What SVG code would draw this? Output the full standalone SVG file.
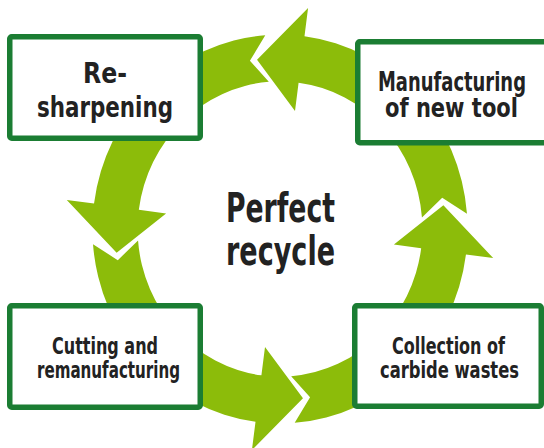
<svg xmlns="http://www.w3.org/2000/svg" xmlns:xlink="http://www.w3.org/1999/xlink" width="544" height="448" viewBox="0 0 544 448">
<style>
.box{fill:#ffffff;stroke:#1b7d33;stroke-width:5.5}
.seg{fill:#8cbc0a}
.t{font-family:"DejaVu Sans","Liberation Sans",sans-serif;font-weight:bold;fill:#222222;text-anchor:middle}
</style>
<defs>
<path id="seg" class="seg" d="M190.41,-14.99 A191,191 0 0 0 24.93,-189.37 L28.59,-217.13 L-23.38,-166.37 L15.27,-116.00 L18.93,-143.76 A145,145 0 0 1 144.55,-11.38 L165.19,-30.62 Z"/>
</defs>
<rect width="544" height="448" fill="#ffffff"/>
<g id="connectors" transform="translate(280,229) scale(0.982,1.018)">
<use xlink:href="#seg"/>
<use xlink:href="#seg" transform="rotate(-90)"/>
<use xlink:href="#seg" transform="rotate(-180)"/>
<use xlink:href="#seg" transform="rotate(-270)"/>
</g>
<g id="center">
<text class="t" x="280.5" y="222" font-size="26.7" textLength="109" lengthAdjust="spacingAndGlyphs" transform="matrix(1,0,0,1.5,0,-111)">Perfect</text>
<text class="t" x="280.5" y="265" font-size="27" textLength="109" lengthAdjust="spacingAndGlyphs" transform="matrix(1,0,0,1.48,0,-127.2)">recycle</text>
</g>
<g id="resharpening">
<rect class="box" x="9.75" y="36.75" width="190.5" height="101.5" rx="2"/>
<text class="t" x="105" y="83" font-size="23.6" textLength="44" lengthAdjust="spacingAndGlyphs" transform="matrix(1,0,0,1.23,0,-19.09)">Re-</text>
<text class="t" x="105" y="117" font-size="21.4" textLength="136" lengthAdjust="spacingAndGlyphs" transform="matrix(1,0,0,1.355,0,-41.54)">sharpening</text>
</g>
<g id="manufacturing">
<rect class="box" x="357.75" y="41.75" width="200" height="101" rx="2"/>
<text class="t" x="452" y="91" font-size="17.9" textLength="148" lengthAdjust="spacingAndGlyphs" transform="matrix(1,0,0,1.45,0,-40.95)">Manufacturing</text>
<text class="t" x="451.5" y="117" font-size="21" textLength="133" lengthAdjust="spacingAndGlyphs" transform="matrix(1,0,0,1.24,0,-28.08)">of new tool</text>
</g>
<g id="cutting">
<rect class="box" x="9.75" y="305.75" width="190.5" height="101.5" rx="2"/>
<text class="t" x="105" y="354" font-size="16" textLength="106" lengthAdjust="spacingAndGlyphs" transform="matrix(1,0,0,1.44,0,-155.76)">Cutting and</text>
<text class="t" x="108.5" y="378" font-size="15.1" textLength="143" lengthAdjust="spacingAndGlyphs" transform="matrix(1,0,0,1.52,0,-196.56)">remanufacturing</text>
</g>
<g id="collection">
<rect class="box" x="354.75" y="305.75" width="186.5" height="100.5" rx="2"/>
<text class="t" x="448.5" y="354" font-size="16" textLength="113" lengthAdjust="spacingAndGlyphs" transform="matrix(1,0,0,1.44,0,-155.76)">Collection of</text>
<text class="t" x="449.5" y="378" font-size="16.3" textLength="139" lengthAdjust="spacingAndGlyphs" transform="matrix(1,0,0,1.41,0,-154.98)">carbide wastes</text>
</g>
</svg>
